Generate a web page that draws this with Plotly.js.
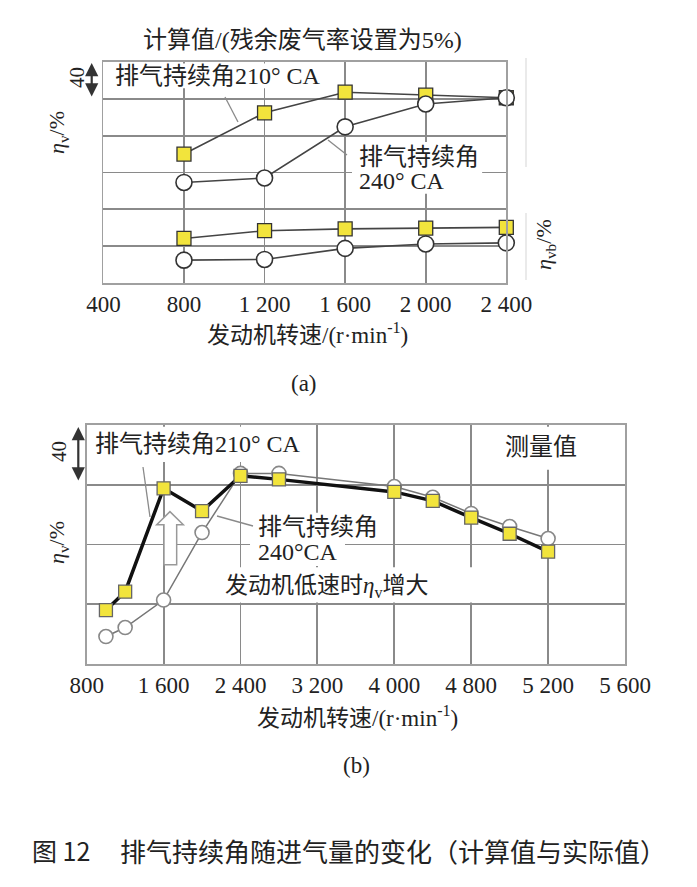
<!DOCTYPE html>
<html><head><meta charset="utf-8">
<script src="https://cdn.plot.ly/plotly-3.0.1.min.js"></script>
<style>html,body{margin:0;padding:0;background:#fff}#chart{width:697px;height:887px}</style>
</head><body><div id="chart"></div>
<script>
// ---- data (a) calculated ----
const speedA = [800, 1200, 1600, 2000, 2400];
const etaV210 = [35.0, 46.2, 51.8, 51.0, 50.3];
const etaV240 = [27.3, 28.5, 42.4, 48.6, 50.3];
const etaVb210 = [12.1, 14.2, 14.7, 14.9, 15.1];
const etaVb240 = [6.2, 6.4, 9.4, 10.6, 10.9];
const tickValsA = [400, 800, 1200, 1600, 2000, 2400];
const tickTextA = ['400', '800', '1 200', '1 600', '2 000', '2 400'];
// ---- data (b) measured ----
const speedB = [1000, 1200, 1600, 2000, 2400, 2800, 4000, 4400, 4800, 5200, 5600];
const meas210 = [9.0, 12.1, 29.4, 25.6, 31.5, 30.9, 28.8, 27.3, 24.5, 21.8, 18.8];
const meas240 = [4.6, 6.1, 10.7, 22.0, 31.9, 31.9, 29.7, 27.9, 25.2, 23.0, 21.0];
const tickValsB = [800, 1600, 2400, 3200, 4000, 4800, 5600, 6400];
const tickTextB = ['800', '1 600', '2 400', '3 200', '4 000', '4 800', '5 200', '5 600'];

const W = 697, H = 887;
const px = x => x / W;
const py = y => 1 - y / H;
const SERIF = 'Liberation Serif, Noto Sans CJK SC, serif';
const CJK = 'Noto Sans CJK SC, sans-serif';
const YEL = '#f2e43c';

const sq = (x, y, xa, ya, lc, lw, mlc) => ({
  x, y, xaxis: xa, yaxis: ya, type: 'scatter', mode: 'lines+markers', cliponaxis: false,
  line: {color: lc, width: lw},
  marker: {symbol: 'square', size: 14, color: YEL, line: {color: mlc, width: 1.3}},
  hoverinfo: 'skip'
});
const ci = (x, y, xa, ya, lc, lw, mlc, sz) => ({
  x, y, xaxis: xa, yaxis: ya, type: 'scatter', mode: 'lines+markers', cliponaxis: false,
  line: {color: lc, width: lw},
  marker: {symbol: 'circle', size: sz, color: '#fff', line: {color: mlc, width: 1.6}},
  hoverinfo: 'skip'
});

const traces = [
  sq(speedA, etaV210, 'x', 'y', '#444', 1.6, '#333'),
  sq(speedA, etaVb210, 'x', 'y', '#444', 1.6, '#333'),
  ci(speedA, etaV240, 'x', 'y', '#444', 1.6, '#333', 16),
  ci(speedA, etaVb240, 'x', 'y', '#444', 1.6, '#333', 16),
  ci(speedB, meas240, 'x2', 'y2', '#777', 1.5, '#888', 14),
  sq(speedB, meas210, 'x2', 'y2', '#111', 3.5, '#666')
];
traces[5].marker.size = 13;

const axBase = {
  showgrid: true, gridcolor: '#8a8a8a', gridwidth: 1.8, zeroline: false,
  showline: true, mirror: true, linecolor: '#a0a0a0', linewidth: 1.8, ticks: '', fixedrange: true
};
const tickFont = {family: SERIF, size: 23, color: '#222'};

const ann = (x, y, text, o = {}) => Object.assign({
  xref: 'paper', yref: 'paper', x: px(x), y: py(y), text, showarrow: false,
  xanchor: 'center', yanchor: 'middle', font: {family: SERIF, size: 24, color: '#222'}
}, o);
const dblArrow = (x, y0, y1) => ({
  xref: 'paper', yref: 'paper', x: px(x), y: py(y0), ax: 0, ay: y1 - y0, text: '',
  showarrow: true, arrowside: 'end+start', arrowhead: 2, arrowsize: 1.2, arrowwidth: 2.2,
  arrowcolor: '#333', standoff: 0, startstandoff: 0
});

const annotations = [
  ann(302.5, 40, '计算值/(残余废气率设置为5%)'),
  ann(217.5, 76, '排气持续角210° CA'),
  ann(357, 157, '排气持续角', {xanchor: 'left'}),
  ann(357, 181, '240° CA', {xanchor: 'left'}),
  ann(77, 78, '40', {textangle: -90, font: {family: SERIF, size: 21, color: '#222'}}),
  dblArrow(91.7, 63, 98),
  ann(58, 132, '<i>η</i><sub>v</sub>/%', {textangle: -90, font: {family: SERIF, size: 22, color: '#222'}}),
  ann(545, 245, '<i>η</i><sub>vb</sub>/%', {textangle: -90, font: {family: SERIF, size: 22, color: '#222'}}),
  ann(307, 333, '发动机转速/(r·min<sup>-1</sup>)', {font: {family: SERIF, size: 23, color: '#222'}}),
  ann(304, 383, '(a)', {font: {family: SERIF, size: 23, color: '#222'}}),

  ann(198, 444, '排气持续角210° CA'),
  ann(256, 527, '排气持续角', {xanchor: 'left'}),
  ann(256, 552, '240°CA', {xanchor: 'left'}),
  ann(223, 587, '发动机低速时<i>η</i><sub>v</sub>增大', {xanchor: 'left', font: {family: SERIF, size: 23, color: '#222'}}),
  ann(541, 447, '测量值'),
  ann(59, 452, '40', {textangle: -90, font: {family: SERIF, size: 21, color: '#222'}}),
  dblArrow(78.3, 427, 482),
  ann(58, 542, '<i>η</i><sub>v</sub>/%', {textangle: -90, font: {family: SERIF, size: 22, color: '#222'}}),
  ann(357, 716, '发动机转速/(r·min<sup>-1</sup>)', {font: {family: SERIF, size: 23, color: '#222'}}),
  ann(356, 765, '(b)', {font: {family: SERIF, size: 23, color: '#222'}}),

  ann(30, 850, '图 12', {xanchor: 'left', font: {family: CJK, size: 25, color: '#222'}}),
  ann(118, 850, '排气持续角随进气量的变化（计算值与实际值）', {xanchor: 'left', font: {family: CJK, size: 26, color: '#222'}})
];

const pline = (x0, y0, x1, y1, c = '#8a8a8a', w = 1.3) => ({
  type: 'line', xref: 'paper', yref: 'paper', x0: px(x0), y0: py(y0), x1: px(x1), y1: py(y1),
  line: {color: c, width: w}, layer: 'above'
});
const wrect = (xa, ya, x0, x1, y0, y1) => ({
  type: 'rect', xref: xa, yref: ya, x0, x1, y0, y1, fillcolor: '#fff', line: {width: 0}, layer: 'between'
});

const shapes = [
  wrect('x', 'y', 423, 1505, 52.9, 59.6),
  wrect('x', 'y', 1634, 2280, 24.2, 38.3),
  wrect('x2', 'y2', 834, 3082, 33.8, 39.7),
  wrect('x2', 'y2', 2499, 3487, 16.4, 25.3),
  wrect('x2', 'y2', 2135, 4892, 10.3, 16.2),
  wrect('x2', 'y2', 5079, 5984, 32.5, 39.7),
  pline(225, 97, 238, 122),
  pline(328, 140, 347, 155),
  pline(143, 467, 150, 517),
  pline(217, 516, 253, 526),
  pline(526, 58, 526, 167, '#dcdcdc', 1.2),
  pline(526, 213, 526, 280, '#dcdcdc', 1.2),
  {type: 'path', xref: 'x2', yref: 'y2', layer: 'above',
   path: 'M1604,16.6 L1604,23.3 L1528,23.3 L1666,25.5 L1805,23.3 L1736,23.3 L1736,16.6 Z',
   fillcolor: '#fff', line: {color: '#999', width: 1.5}}
];

const layout = {
  width: W, height: H, margin: {l: 0, r: 0, t: 0, b: 0},
  paper_bgcolor: '#fff', plot_bgcolor: '#fff', showlegend: false,
  xaxis: Object.assign({}, axBase, {domain: [px(103.4), px(506.3)], range: [400, 2400], anchor: 'y',
    tickmode: 'array', tickvals: tickValsA, ticktext: tickTextA, tickfont: tickFont, ticklabelstandoff: 0}),
  yaxis: Object.assign({}, axBase, {domain: [py(283), py(62)], range: [0, 60], dtick: 10, anchor: 'x', showticklabels: false}),
  xaxis2: Object.assign({}, axBase, {domain: [px(86.7), px(625)], range: [800, 6400], anchor: 'y2',
    tickmode: 'array', tickvals: tickValsB, ticktext: tickTextB, tickfont: tickFont, ticklabelstandoff: 0}),
  yaxis2: Object.assign({}, axBase, {domain: [py(664), py(425)], range: [0, 40], dtick: 10, anchor: 'x2', showticklabels: false}),
  annotations, shapes
};

Plotly.newPlot('chart', traces, layout, {staticPlot: true});
</script>
</body></html>
